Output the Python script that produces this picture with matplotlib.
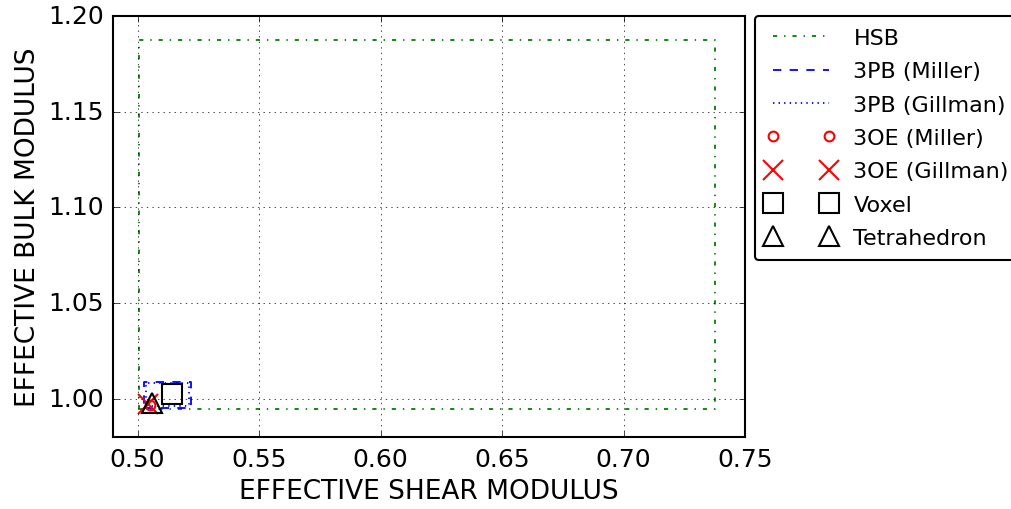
import matplotlib
matplotlib.use('Agg')
import matplotlib.pyplot as plt

# bounds (shear, bulk)
hsb_shear = [0.5005, 0.7375]
hsb_bulk = [0.9948, 1.1875]
pb_miller_shear = [0.5025, 0.5218]
pb_miller_bulk = [0.9953, 1.0089]
pb_gillman_shear = [0.5035, 0.5210]
pb_gillman_bulk = [0.9960, 1.0080]

# point estimates
oe_miller = [0.5050, 0.9969]
oe_gillman = [0.5045, 0.9972]
voxel = [0.5140, 1.0026]
tetra = [0.5058, 0.9979]


def box(xs, ys):
    return ([xs[0], xs[1], xs[1], xs[0], xs[0]],
            [ys[0], ys[0], ys[1], ys[1], ys[0]])


plt.style.use('classic')
plt.rcParams['font.family'] = ['DejaVu Sans']
plt.rcParams['axes.linewidth'] = 1.5
plt.rcParams['lines.linewidth'] = 1.3

fig = plt.figure(figsize=(10.11, 5.10), dpi=100)
ax = fig.add_axes([0.112, 0.141, 0.625, 0.826])

bx, by = box(hsb_shear, hsb_bulk)
ax.plot(bx, by, 'g-.', label='HSB')
bx, by = box(pb_miller_shear, pb_miller_bulk)
ax.plot(bx, by, 'b--', label='3PB (Miller)')
bx, by = box(pb_gillman_shear, pb_gillman_bulk)
ax.plot(bx, by, 'b:', label='3PB (Gillman)')

ax.plot([oe_miller[0]], [oe_miller[1]], 'o', mec='r', mfc='none', ms=7, mew=1.5,
        label='3OE (Miller)')
ax.plot([oe_gillman[0]], [oe_gillman[1]], 'x', mec='r', ms=14, mew=1.5,
        label='3OE (Gillman)')
ax.plot([voxel[0]], [voxel[1]], 's', mec='k', mfc='none', ms=14, mew=1.5,
        label='Voxel')
ax.plot([tetra[0]], [tetra[1]], '^', mec='k', mfc='none', ms=14, mew=1.5,
        label='Tetrahedron')

ax.set_xlim(0.49, 0.75)
ax.set_ylim(0.98, 1.20)
ax.set_xticks([0.50, 0.55, 0.60, 0.65, 0.70, 0.75])
ax.set_yticks([1.00, 1.05, 1.10, 1.15, 1.20])
ax.tick_params(labelsize=18, pad=7)
ax.grid(True)
ax.set_xlabel('EFFECTIVE SHEAR MODULUS', fontsize=19)
ax.set_ylabel('EFFECTIVE BULK MODULUS', fontsize=19)

leg = ax.legend(loc='upper left', bbox_to_anchor=(1.015, 1.0), numpoints=2,
                fontsize=16, borderaxespad=0, handlelength=3.1,
                borderpad=0.55, fancybox=True, labelspacing=0.6)
leg.get_frame().set_linewidth(1.5)

fig.savefig('out.png', dpi=100)
